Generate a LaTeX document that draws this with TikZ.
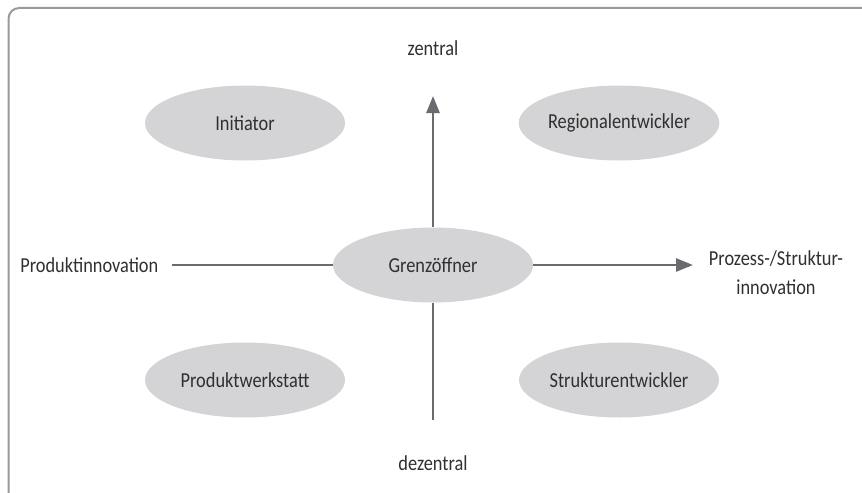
\documentclass[tikz,border=0pt]{standalone}
\usepackage{fontspec}
\setmainfont{Carlito}[FakeStretch=0.86]
\usetikzlibrary{arrows.meta,shapes.geometric}
\newcommand{\pixelsize}{0.75pt}
\definecolor{ovalgray}{HTML}{D4D4D6}
\definecolor{axisgray}{HTML}{6B6B6F}
\definecolor{framegray}{HTML}{9A9A9A}
\definecolor{textgray}{HTML}{303030}
\tikzset{
	role/.style={ellipse, fill=ovalgray, minimum width=200*\pixelsize, minimum height=75*\pixelsize, inner sep=0pt, text=textgray},
	pole/.style={text=textgray, inner sep=0pt},
	axis/.style={draw=axisgray, line width=2pt},
	axistip/.style={-{Triangle[length=12.75pt, width=9.75pt]}}
}

\begin{document}
\begin{tikzpicture}[x=\pixelsize,y=-\pixelsize,font=\fontsize{16}{21.5}\selectfont]
	\clip (0,0) rectangle (862,492);
	\draw[framegray, line width=1.5pt, rounded corners=8] (8.5,8) rectangle (880,520);

	\node[role] (grenz) at (433,265) {Grenzöffner};
	\node[role] (init) at (245,123) {Initiator};
	\node[role] (region) at (619,123) {Regionalentwickler};
	\node[role] (werk) at (245,380) {Produktwerkstatt};
	\node[role] (struktur) at (619,380) {Strukturentwickler};

	\node[pole] (zentral) at (433,48) {zentral};
	\node[pole] (dezentral) at (433,463) {dezentral};
	\node[pole, anchor=west] (produkt) at (20,265) {Produktinnovation};
	\node[pole, align=center] (prozess) at (776,273) {Prozess-/Struktur-\\innovation};

	\coordinate (N) at (433,96);
	\coordinate (S) at (433,420);
	\coordinate (W) at (172,265);
	\coordinate (E) at (693,265);

	\draw[axis, axistip] (grenz) -- (N);
	\draw[axis] (grenz) -- (S);
	\draw[axis] (grenz) -- (W);
	\draw[axis, axistip] (grenz) -- (E);
\end{tikzpicture}
\end{document}
